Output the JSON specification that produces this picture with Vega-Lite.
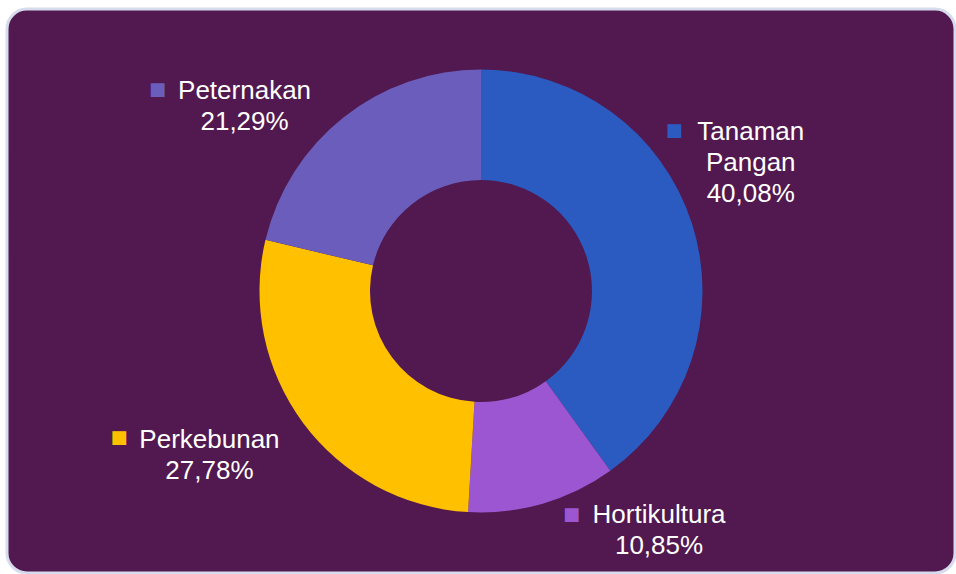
{
  "$schema": "https://vega.github.io/schema/vega-lite/v6.json",
  "width": 948,
  "height": 564,
  "autosize": "none",
  "padding": {"left": 7, "top": 9, "right": 1, "bottom": 1},
  "background": "#FFFFFF",
  "config": {"view": {"stroke": null}},
  "datasets": {
    "sektor": [
      {"sektor": "Tanaman Pangan", "persen": 40.08, "urut": 1, "teks": "Tanaman\nPangan\n40,08%"},
      {"sektor": "Hortikultura", "persen": 10.85, "urut": 2, "teks": "Hortikultura\n10,85%"},
      {"sektor": "Perkebunan", "persen": 27.78, "urut": 3, "teks": "Perkebunan\n27,78%"},
      {"sektor": "Peternakan", "persen": 21.29, "urut": 4, "teks": "Peternakan\n21,29%"}
    ],
    "panel": [{"nama": "latar"}]
  },
  "layer": [
    {
      "data": {"name": "panel"},
      "mark": {"type": "rect", "fill": "#51194F", "stroke": "#D6DCEE", "strokeWidth": 3, "cornerRadius": 20},
      "encoding": {}
    },
    {
      "data": {"name": "sektor"},
      "encoding": {
        "theta": {"field": "persen", "type": "quantitative", "stack": true},
        "order": {"field": "urut", "type": "quantitative"},
        "color": {
          "field": "sektor",
          "type": "nominal",
          "legend": null,
          "scale": {
            "domain": ["Tanaman Pangan", "Hortikultura", "Perkebunan", "Peternakan"],
            "range": ["#2B5BC1", "#9C56D1", "#FFC000", "#6A5DBB"]
          }
        }
      },
      "layer": [
        {"mark": {"type": "arc", "outerRadius": 221.5, "innerRadius": 111}},
        {
          "mark": {"type": "text", "radius": 296, "dx": -12, "dy": -68, "font": "Liberation Sans", "fontSize": 26, "lineHeight": 31, "lineBreak": "\n", "align": "center", "baseline": "middle"},
          "encoding": {"text": {"condition": {"test": "datum.sektor === 'Tanaman Pangan'", "field": "teks", "type": "nominal"}, "value": ""}, "color": {"value": "#FFFFFF"}}
        },
        {
          "mark": {"type": "text", "radius": 280, "dx": 100, "dy": -44.5, "font": "Liberation Sans", "fontSize": 26, "lineHeight": 31, "lineBreak": "\n", "align": "center", "baseline": "middle"},
          "encoding": {"text": {"condition": {"test": "datum.sektor === 'Hortikultura'", "field": "teks", "type": "nominal"}, "value": ""}, "color": {"value": "#FFFFFF"}}
        },
        {
          "mark": {"type": "text", "radius": 316, "dx": -18, "dy": -39.5, "font": "Liberation Sans", "fontSize": 26, "lineHeight": 31, "lineBreak": "\n", "align": "center", "baseline": "middle"},
          "encoding": {"text": {"condition": {"test": "datum.sektor === 'Perkebunan'", "field": "teks", "type": "nominal"}, "value": ""}, "color": {"value": "#FFFFFF"}}
        },
        {
          "mark": {"type": "text", "radius": 291, "dx": -56, "dy": 28.5, "font": "Liberation Sans", "fontSize": 26, "lineHeight": 31, "lineBreak": "\n", "align": "center", "baseline": "middle"},
          "encoding": {"text": {"condition": {"test": "datum.sektor === 'Peternakan'", "field": "teks", "type": "nominal"}, "value": ""}, "color": {"value": "#FFFFFF"}}
        },
        {
          "mark": {"type": "text", "radius": 296, "dx": -88.5, "dy": -69.5, "font": "DejaVu Sans", "fontSize": 18, "align": "center", "baseline": "middle"},
          "encoding": {"text": {"condition": {"test": "datum.sektor === 'Tanaman Pangan'", "value": "■"}, "value": ""}}
        },
        {
          "mark": {"type": "text", "radius": 280, "dx": 12.5, "dy": -44.5, "font": "DejaVu Sans", "fontSize": 18, "align": "center", "baseline": "middle"},
          "encoding": {"text": {"condition": {"test": "datum.sektor === 'Hortikultura'", "value": "■"}, "value": ""}}
        },
        {
          "mark": {"type": "text", "radius": 316, "dx": -108.5, "dy": -41.5, "font": "DejaVu Sans", "fontSize": 18, "align": "center", "baseline": "middle"},
          "encoding": {"text": {"condition": {"test": "datum.sektor === 'Perkebunan'", "value": "■"}, "value": ""}}
        },
        {
          "mark": {"type": "text", "radius": 291, "dx": -143, "dy": 27.5, "font": "DejaVu Sans", "fontSize": 18, "align": "center", "baseline": "middle"},
          "encoding": {"text": {"condition": {"test": "datum.sektor === 'Peternakan'", "value": "■"}, "value": ""}}
        }
      ]
    }
  ]
}
